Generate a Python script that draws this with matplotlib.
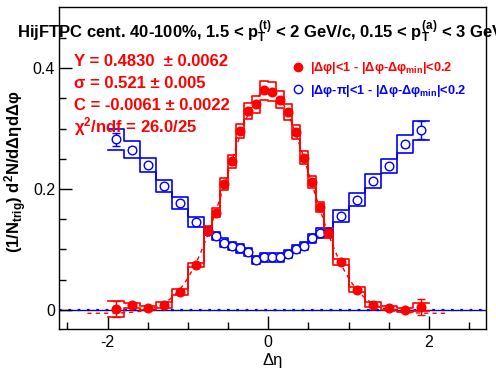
import numpy as np
import matplotlib
matplotlib.use("Agg")
import matplotlib.pyplot as plt

plt.rcParams['font.family'] = ['Liberation Sans', 'DejaVu Sans']
plt.rcParams['mathtext.fontset'] = 'custom'
plt.rcParams['mathtext.rm'] = 'Liberation Sans:bold'
plt.rcParams['mathtext.it'] = 'Liberation Sans:bold'
plt.rcParams['mathtext.bf'] = 'Liberation Sans:bold'

# ---- data ----
x_centers = [-1.9, -1.7, -1.5, -1.3, -1.1, -0.9,
             -0.75, -0.65, -0.55, -0.45, -0.35, -0.25, -0.15, -0.05,
             0.05, 0.15, 0.25, 0.35, 0.45, 0.55, 0.65, 0.75,
             0.9, 1.1, 1.3, 1.5, 1.7, 1.9]
bin_widths = [0.2] * 6 + [0.1] * 16 + [0.2] * 6

near_y = [0.001, 0.007, 0.003, 0.007, 0.029, 0.074,
          0.131, 0.161, 0.209, 0.246, 0.296, 0.329, 0.340, 0.3635,
          0.361, 0.348, 0.327, 0.294, 0.252, 0.211, 0.170, 0.127,
          0.079, 0.033, 0.008, 0.003, -0.0005, 0.0045]
near_stat = [0.013, 0.004, 0.003, 0.003, 0.003, 0.003,
             0.004, 0.004, 0.004, 0.004, 0.004, 0.004, 0.004, 0.004,
             0.004, 0.004, 0.004, 0.004, 0.004, 0.004, 0.004, 0.004,
             0.003, 0.003, 0.003, 0.003, 0.003, 0.013]
near_sys = [0.013, 0.004, 0.003, 0.005, 0.005, 0.0035,
            0.008, 0.008, 0.010, 0.011, 0.012, 0.013, 0.014, 0.016,
            0.016, 0.014, 0.013, 0.012, 0.011, 0.010, 0.008, 0.008,
            0.005, 0.004, 0.004, 0.003, 0.003, 0.006]

away_y = [0.282, 0.265, 0.240, 0.205, 0.177, 0.145,
          0.130, 0.122, 0.111, 0.1055, 0.1017, 0.0956, 0.0823, 0.0868,
          0.0868, 0.0868, 0.0923, 0.1006, 0.1055, 0.118, 0.127, 0.128,
          0.155, 0.182, 0.213, 0.238, 0.274, 0.297]
away_stat = [0.011, 0.004, 0.003, 0.003, 0.003, 0.003,
             0.003, 0.003, 0.003, 0.003, 0.003, 0.003, 0.003, 0.003,
             0.003, 0.003, 0.003, 0.003, 0.003, 0.003, 0.003, 0.003,
             0.003, 0.003, 0.003, 0.003, 0.004, 0.015]
away_sys = [0.018, 0.014, 0.012, 0.010, 0.0105, 0.008,
            0.007, 0.007, 0.007, 0.007, 0.007, 0.007, 0.007, 0.007,
            0.007, 0.007, 0.007, 0.007, 0.007, 0.007, 0.008, 0.008,
            0.010, 0.011, 0.012, 0.012, 0.015, 0.016]

fit_Y, fit_sigma, fit_C = 0.4830, 0.521, -0.0061
fit_range = (-2.25, 2.22)

title = ("HijFTPC cent. 40-100%, 1.5 < $p_{T}^{(t)}$ < 2 GeV/c, "
         "0.15 < $p_{T}^{(a)}$ < 3 GeV/c")
fit_lines = ["Y = 0.4830  \u00b1 0.0062",
             "\u03c3 = 0.521 \u00b1 0.005",
             "C = -0.0061 \u00b1 0.0022",
             "\u03c7$^{2}$/ndf = 26.0/25"]
leg_near = "|\u0394\u03c6|<1 - |\u0394\u03c6-\u0394\u03c6$_{min}$|<0.2"
leg_away = "|\u0394\u03c6-\u03c0|<1 - |\u0394\u03c6-\u0394\u03c6$_{min}$|<0.2"

RED = '#ff0000'
BLUE = '#0000ff'

W, H = 496, 374
fig = plt.figure(figsize=(W / 100, H / 100), dpi=100)
ax = fig.add_axes([59.3 / W, 1 - 329 / H, (486 - 59.3) / W, (329 - 7.3) / H])
ax.set_xlim(-2.6, 2.71)
ax.set_ylim(-0.032, 0.501)

# zero line
ax.axhline(0, color='#101070', lw=1.0, zorder=1)
ax.axhline(0, color=BLUE, lw=1.6, ls=(0, (1.2, 3)), zorder=1)


def band_steps(xc, wd, yv, sv, sign):
    xs, ys = [], []
    for c, w, y, s in zip(xc, wd, yv, sv):
        xs += [c - w / 2, c + w / 2]
        ys += [y + sign * s, y + sign * s]
    return xs, ys


# systematic bands drawn as upper / lower step lines
for sign in (1, -1):
    bx, by = band_steps(x_centers, bin_widths, away_y, away_sys, sign)
    ax.plot(bx, by, color=BLUE, lw=1.2, zorder=2)
for sign in (1, -1):
    bx, by = band_steps(x_centers, bin_widths, near_y, near_sys, sign)
    ax.plot(bx, by, color=RED, lw=1.2, zorder=3)

# fit curve
xf = np.linspace(fit_range[0], fit_range[1], 400)
yf = fit_Y / (np.sqrt(2 * np.pi) * fit_sigma) * np.exp(-xf**2 / (2 * fit_sigma**2)) + fit_C
ax.plot(xf, yf, color=RED, lw=1.0, ls=(0, (3, 3)), zorder=4)

# points
ax.errorbar(x_centers, away_y, yerr=away_stat, fmt='o', ms=6.2, mfc='white',
            mec=BLUE, mew=1.0, ecolor=BLUE, elinewidth=1.0, capsize=3,
            capthick=1.0, zorder=5)
ax.errorbar(x_centers, near_y, yerr=near_stat, fmt='o', ms=6.2, mfc=RED,
            mec=RED, ecolor=RED, elinewidth=1.0, capsize=3, capthick=1.0,
            zorder=6)

# axes style (ROOT-like)
for sp in ax.spines.values():
    sp.set_linewidth(1.0)
ax.set_xticks([-2, 0, 2])
ax.set_xticks(np.arange(-2.5, 2.51, 0.5), minor=True)
ax.set_yticks([0, 0.2, 0.4])
ax.set_yticks(np.arange(0, 0.451, 0.05), minor=True)
ax.set_xticklabels(['-2', '0', '2'])
ax.set_yticklabels(['0', '0.2', '0.4'])
ax.tick_params(which='both', direction='in', top=False, right=False,
               labelsize=11.5, width=1.0)
ax.tick_params(which='major', length=9.5)
ax.tick_params(which='minor', length=5)
ax.tick_params(axis='y', pad=3)
ax.tick_params(axis='x', pad=4)

# texts
fig.text(17 / W, 1 - 38 / H, title, fontsize=12, fontweight='bold',
         ha='left', va='baseline', color='black')
for i, line in enumerate(fit_lines):
    fig.text(74 / W, 1 - (66 + 22 * i) / H, line, fontsize=12,
             fontweight='bold', color=RED, ha='left', va='baseline')

fig.lines.append(plt.Line2D([297.7 / W], [1 - 66.7 / H], marker='o', ms=6,
                            mfc=RED, mec=RED, transform=fig.transFigure))
fig.lines.append(plt.Line2D([297.7 / W], [1 - 89.3 / H], marker='o', ms=6,
                            mfc='white', mec=BLUE, mew=1.0,
                            transform=fig.transFigure))
fig.text(310 / W, 1 - 71 / H, leg_near, fontsize=9.2, fontweight='bold',
         color=RED, ha='left', va='baseline')
fig.text(310 / W, 1 - 94 / H, leg_away, fontsize=9.2, fontweight='bold',
         color=BLUE, ha='left', va='baseline')

fig.text(16 / W, 1 - 172 / H,
         "(1/N$_{trig}$) d$^{2}$N/d\u0394\u03b7d\u0394\u03c6",
         rotation=90, fontsize=12, fontweight='bold', ha='center',
         va='center')
fig.text(273 / W, 1 - 361 / H, "\u0394\u03b7", fontsize=12, ha='center',
         va='center')

fig.savefig("out.png", dpi=100)
